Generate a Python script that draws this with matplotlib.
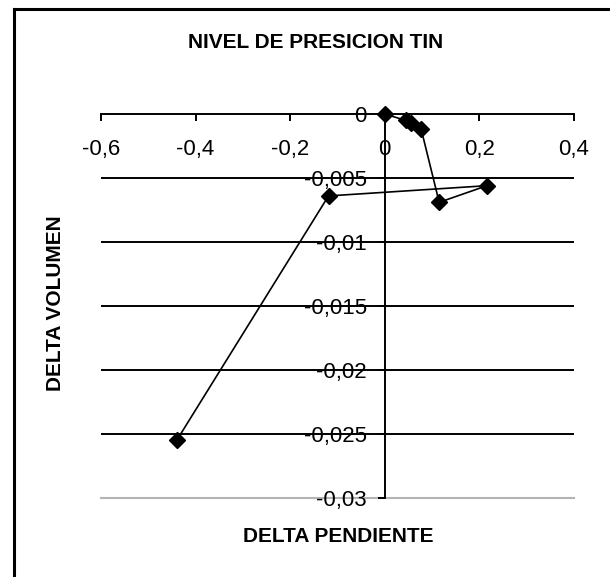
import matplotlib
matplotlib.use("Agg")
import matplotlib.pyplot as plt
from matplotlib.lines import Line2D
from matplotlib.ticker import FuncFormatter

plt.rcParams['font.family'] = ['Liberation Sans', 'DejaVu Sans']
plt.rcParams['axes.unicode_minus'] = False

# datos (delta pendiente, delta volumen)
delta_pendiente = [0, 0.044, 0.056, 0.077, 0.115, 0.216, -0.119, -0.440]
delta_volumen = [0, -0.0005, -0.0007, -0.0012, -0.0069, -0.0056, -0.0064, -0.0255]

x_ticks = [-0.6, -0.4, -0.2, 0, 0.2, 0.4]
y_ticks = [0, -0.005, -0.01, -0.015, -0.02, -0.025, -0.03]

titulo = "NIVEL DE PRESICION TIN"
etiqueta_x = "DELTA PENDIENTE"
etiqueta_y = "DELTA VOLUMEN"

fig = plt.figure(figsize=(6.1, 5.77), dpi=100)
ax = fig.add_axes([101/610, 79/577, 473/610, 384/577])

ax.set_xlim(-0.6, 0.4)
ax.set_ylim(-0.03, 0)

# lineas de division horizontales
for yv in y_ticks[1:-1]:
    ax.axhline(yv, color='black', lw=1.4, zorder=1)
ax.axhline(-0.03, color='#b4b4b4', lw=1.5, zorder=1, clip_on=False)

ax.plot(delta_pendiente, delta_volumen, color='black', lw=1.2, marker='D',
        markersize=8.5, zorder=3, clip_on=False)

for s in ['top', 'right']:
    ax.spines[s].set_visible(False)
ax.spines['bottom'].set_position(('data', 0))
ax.spines['left'].set_position(('data', 0))
ax.spines['bottom'].set_linewidth(1.4)
ax.spines['left'].set_linewidth(1.4)

def coma(v, pos):
    s = ('%g' % v).replace('.', ',')
    return '0' if s in ('0', '-0') else s

ax.set_xticks(x_ticks)
ax.set_yticks(y_ticks)
ax.xaxis.set_major_formatter(FuncFormatter(coma))
ax.yaxis.set_major_formatter(FuncFormatter(coma))
ax.tick_params(axis='x', direction='out', length=5, width=1.4, pad=13, labelsize=16)
ax.tick_params(axis='y', direction='out', length=5, width=1.4, pad=8, labelsize=16)
for lbl in ax.get_yticklabels():
    lbl.set_zorder(5)

fig.text(0.517, 1 - 42/577, titulo, ha='center', va='center',
         fontsize=15, fontweight='bold')
fig.text(338/610, 1 - 537/577, etiqueta_x, ha='center', va='center',
         fontsize=15, fontweight='bold')
fig.text(56/610, 1 - 303/577, etiqueta_y, ha='center', va='center',
         rotation=90, fontsize=15, fontweight='bold')

# borde del grafico
fig.add_artist(Line2D([14/610, 14/610], [0, 1 - 9/577], color='black', lw=2.2,
                      transform=fig.transFigure))
fig.add_artist(Line2D([14/610, 1], [1 - 9/577, 1 - 9/577], color='black', lw=2.2,
                      transform=fig.transFigure))

fig.savefig("out.png", dpi=100)
